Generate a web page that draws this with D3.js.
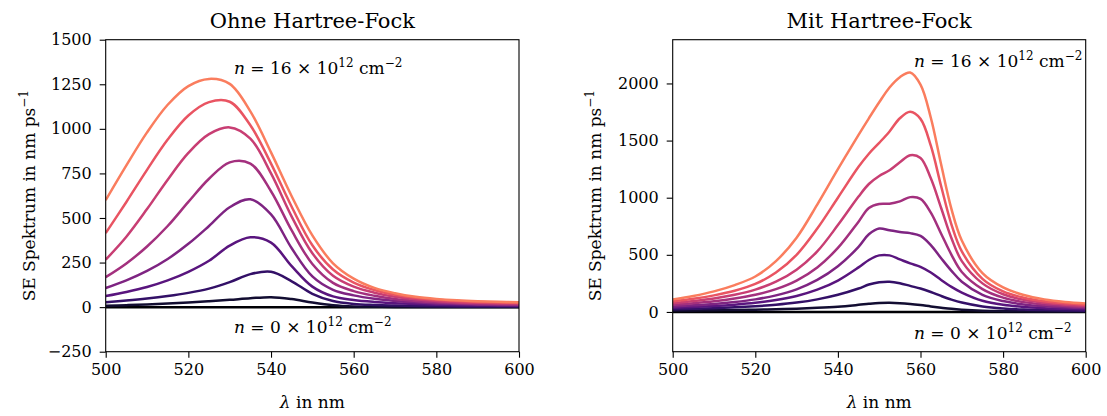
<!DOCTYPE html>
<html>
<head>
<meta charset="utf-8">
<script src="https://cdn.jsdelivr.net/npm/d3@7"></script>
<style>
  html, body { margin: 0; padding: 0; background: #fff; }
  svg { display: block; }
  text { font-family: "DejaVu Serif", serif; fill: #000; }
</style>
</head>
<body>
<svg id="chart" width="1107" height="416"></svg>
<script>
// Wavelength grids (nm)
const wavelengthsOhne = [500, 505, 510, 515, 520, 525, 530, 535, 540, 545, 550, 555, 560, 565, 570, 575, 580, 585, 590, 595, 600];
const wavelengthsMit = [500, 505, 510, 515, 520, 525, 530, 535, 540, 545, 547.5, 550, 552.5, 555, 557.5, 560, 562.5, 565, 567.5, 570, 575, 580, 585, 590, 595, 600];

// Carrier densities in 10^12 cm^-2
const densities = [0, 2, 4, 6, 8, 10, 12, 14, 16];

// SE spectrum without Hartree-Fock (nm/ps)
const ohneN0  = [0, 0, 0, 0, 0, 0, 0, 0, 0, 0, 0, 0, 0, 0, 0, 0, 0, 0, 0, 0, 0];
const ohneN2  = [8, 11, 15, 20, 26, 33, 41, 50, 56, 45, 26, 11, 4, 2, 1, 1, 1, 1, 1, 1, 1];
const ohneN4  = [28, 37, 48, 62, 80, 104, 140, 185, 198, 145, 75, 34, 18, 12, 9, 7, 5, 4, 4, 3, 3];
const ohneN6  = [62, 85, 113, 150, 198, 260, 345, 392, 362, 230, 115, 60, 40, 29, 22, 17, 13, 11, 9, 8, 7];
const ohneN8  = [107, 150, 203, 270, 355, 455, 560, 605, 520, 330, 172, 97, 66, 47, 35, 27, 21, 17, 14, 12, 11];
const ohneN10 = [168, 245, 340, 455, 590, 720, 812, 805, 650, 430, 242, 136, 90, 64, 46, 35, 27, 22, 18, 16, 14];
const ohneN12 = [266, 395, 550, 715, 865, 970, 1008, 945, 750, 508, 302, 176, 115, 81, 58, 44, 35, 28, 24, 21, 19];
const ohneN14 = [415, 590, 770, 940, 1075, 1150, 1152, 1020, 805, 563, 347, 211, 138, 96, 69, 52, 41, 34, 29, 26, 24];
const ohneN16 = [600, 795, 980, 1135, 1240, 1280, 1252, 1098, 868, 622, 402, 246, 160, 108, 78, 58, 46, 38, 33, 30, 27];

// SE spectrum with Hartree-Fock (nm/ps)
const mitN0  = [0, 0, 0, 0, 0, 0, 0, 0, 0, 0, 0, 0, 0, 0, 0, 0, 0, 0, 0, 0, 0, 0, 0, 0, 0, 0];
const mitN2  = [12, 13, 15, 17, 20, 24, 29, 36, 46, 62, 71, 78, 80, 77, 70, 60, 48, 37, 27, 20, 11, 7, 5, 4, 3, 3];
const mitN4  = [24, 28, 33, 40, 50, 63, 82, 110, 150, 205, 240, 260, 265, 252, 228, 205, 175, 140, 108, 82, 48, 30, 21, 16, 13, 11];
const mitN6  = [36, 43, 52, 64, 80, 104, 140, 195, 275, 390, 455, 495, 495, 460, 425, 395, 345, 280, 220, 170, 98, 62, 43, 33, 27, 23];
const mitN8  = [48, 58, 70, 87, 110, 145, 198, 280, 400, 570, 680, 730, 715, 700, 690, 665, 585, 470, 360, 265, 150, 95, 65, 49, 40, 34];
const mitN10 = [62, 76, 93, 117, 150, 200, 275, 390, 560, 790, 910, 945, 948, 968, 1005, 990, 870, 685, 500, 350, 200, 125, 86, 65, 52, 44];
const mitN12 = [76, 95, 118, 150, 195, 265, 370, 530, 760, 1010, 1120, 1190, 1240, 1310, 1372, 1348, 1170, 910, 645, 445, 250, 155, 106, 80, 64, 54];
const mitN14 = [92, 115, 145, 185, 245, 345, 500, 730, 1000, 1270, 1385, 1480, 1580, 1695, 1752, 1690, 1455, 1100, 765, 530, 290, 180, 125, 93, 75, 64];
const mitN16 = [110, 140, 180, 235, 310, 445, 650, 940, 1250, 1550, 1695, 1835, 1965, 2055, 2096, 1990, 1700, 1290, 900, 625, 340, 215, 148, 110, 88, 75];

// Tick values
const xTicks = [500, 520, 540, 560, 580, 600];
const yTicksOhne = [-250, 0, 250, 500, 750, 1000, 1250, 1500];
const yTicksMit = [0, 500, 1000, 1500, 2000];

const seriesOhne = [ohneN0, ohneN2, ohneN4, ohneN6, ohneN8, ohneN10, ohneN12, ohneN14, ohneN16];
const seriesMit = [mitN0, mitN2, mitN4, mitN6, mitN8, mitN10, mitN12, mitN14, mitN16];

// magma colours, dark (low density) to light (high density)
const colour = i => d3.interpolateMagma(i / 11);

const svg = d3.select("#chart");

const panels = [
  { title: "Ohne Hartree-Fock", wl: wavelengthsOhne, series: seriesOhne, yDomain: [-250, 1500], yTicks: yTicksOhne,
    left: 105.7, right: 519, topLabelY: 74, bottomLabelY: 333, labelX: 234, yLabelX: 35 },
  { title: "Mit Hartree-Fock", wl: wavelengthsMit, series: seriesMit, yDomain: [-348, 2383], yTicks: yTicksMit,
    left: 672.7, right: 1085.7, topLabelY: 66.5, bottomLabelY: 339, labelX: 914, yLabelX: 601 }
];
const plotTop = 39.7, plotBottom = 351.7;

// Writes "n = k × 10^12 cm^-2" with italic n and raised exponents
function densityLabel(g, x, y, k) {
  const t = g.append("text").attr("x", x).attr("y", y).style("font-size", "17px");
  t.append("tspan").style("font-style", "italic").text("n");
  t.append("tspan").text(" = " + k + " × 10");
  t.append("tspan").attr("dy", -7).style("font-size", "12px").text("12");
  t.append("tspan").attr("dy", 7).text(" cm");
  t.append("tspan").attr("dy", -7).style("font-size", "12px").text("−2");
}

panels.forEach((p, pi) => {
  const x = d3.scaleLinear().domain([500, 600]).range([p.left, p.right]);
  const y = d3.scaleLinear().domain(p.yDomain).range([plotBottom, plotTop]);
  const g = svg.append("g");

  const clipId = "clip" + pi;
  svg.append("clipPath").attr("id", clipId).append("rect")
    .attr("x", p.left).attr("y", plotTop).attr("width", p.right - p.left).attr("height", plotBottom - plotTop);

  const line = d3.line()
    .x((d, i) => x(p.wl[i]))
    .y(d => y(d))
    .curve(d3.curveCatmullRom.alpha(0.5));

  const lines = g.append("g").attr("clip-path", `url(#${clipId})`);
  p.series.forEach((vals, i) => {
    lines.append("path")
      .datum(vals)
      .attr("d", line)
      .attr("fill", "none")
      .attr("stroke", colour(i))
      .attr("stroke-width", 2.5)
      .attr("stroke-linejoin", "round");
  });

  // Frame
  g.append("rect")
    .attr("x", p.left).attr("y", plotTop)
    .attr("width", p.right - p.left).attr("height", plotBottom - plotTop)
    .attr("fill", "none").attr("stroke", "#000").attr("stroke-width", 1.1);

  const xAxis = g.append("g").attr("transform", `translate(0,${plotBottom})`)
    .call(d3.axisBottom(x).tickValues(xTicks).tickSize(6).tickSizeOuter(0).tickPadding(6).tickFormat(d3.format("d")));
  const yAxis = g.append("g").attr("transform", `translate(${p.left},0)`)
    .call(d3.axisLeft(y).tickValues(p.yTicks).tickSize(6).tickSizeOuter(0).tickPadding(8).tickFormat(d3.format("d")));
  [xAxis, yAxis].forEach(a => {
    a.select(".domain").remove();
    a.selectAll(".tick line").attr("stroke", "#000").attr("stroke-width", 1.1);
    a.selectAll(".tick text").style("font-size", "16px").style("font-family", "DejaVu Serif").attr("fill", "#000");
  });

  const cx = (p.left + p.right) / 2;
  g.append("text").attr("x", cx).attr("y", 27.5).attr("text-anchor", "middle")
    .style("font-size", "21px").text(p.title);

  const xl = g.append("text").attr("x", cx).attr("y", 408).attr("text-anchor", "middle").style("font-size", "17px");
  xl.append("tspan").style("font-style", "italic").text("λ");
  xl.append("tspan").text(" in nm");

  const yl = g.append("text")
    .attr("transform", `translate(${p.yLabelX},${(plotTop + plotBottom) / 2}) rotate(-90)`)
    .attr("text-anchor", "middle").style("font-size", "17px");
  yl.append("tspan").text("SE Spektrum in nm ps");
  yl.append("tspan").attr("dy", -7).style("font-size", "12px").text("−1");

  densityLabel(g, p.labelX, p.topLabelY, densities[densities.length - 1]);
  densityLabel(g, p.labelX, p.bottomLabelY, densities[0]);
});
</script>
</body>
</html>
